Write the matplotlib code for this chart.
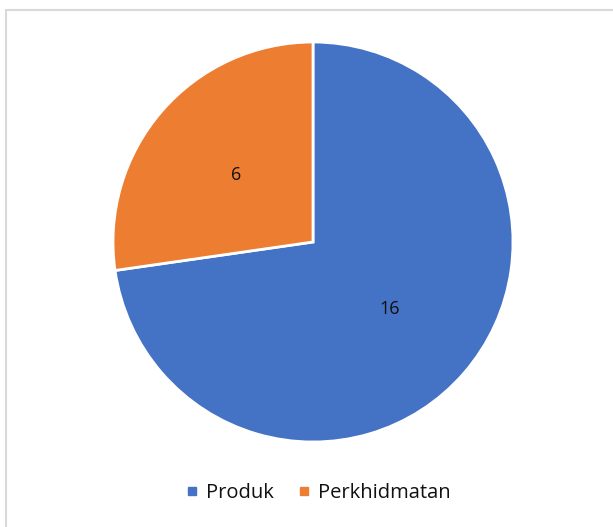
import matplotlib.pyplot as plt
from matplotlib.patches import Rectangle
from matplotlib.lines import Line2D

labels = ['Produk', 'Perkhidmatan']
values = [16, 6]
colors = ['#4472C4', '#ED7D31']

plt.rcParams['font.family'] = ['Open Sans', 'DejaVu Sans']

fig = plt.figure(figsize=(6.13, 5.27), dpi=100)

# chart frame (only left/top visible in the reference)
fig.patches.append(Rectangle((6 / 613, -0.1), 1.2, 1 - 10 / 527 + 0.1, transform=fig.transFigure,
                             fill=False, edgecolor='#D9D9D9', linewidth=1.5))

ax = fig.add_axes([313 / 613 - 200 / 613, 1 - 242 / 527 - 200 / 527, 400 / 613, 400 / 527])
total = sum(values)
ax.pie(values, colors=colors, startangle=90, counterclock=False,
       wedgeprops=dict(edgecolor='white', linewidth=2),
       autopct=lambda p: f'{round(p * total / 100)}', pctdistance=0.51,
       textprops=dict(fontsize=13, color='#111111'))
ax.set_xlim(-1, 1)
ax.set_ylim(-1, 1)
ax.set_aspect('equal')

handles = [Line2D([], [], marker='s', linestyle='none', markersize=6,
                  markerfacecolor=c, markeredgecolor=c) for c in colors]
fig.legend(handles, labels, loc='center', bbox_to_anchor=(316 / 613, 1 - 493 / 527),
           ncol=2, frameon=False, fontsize=14.5, handletextpad=0.2, columnspacing=1.0,
           handlelength=1.0, labelcolor='#111111')

fig.savefig('out.png', dpi=100)
